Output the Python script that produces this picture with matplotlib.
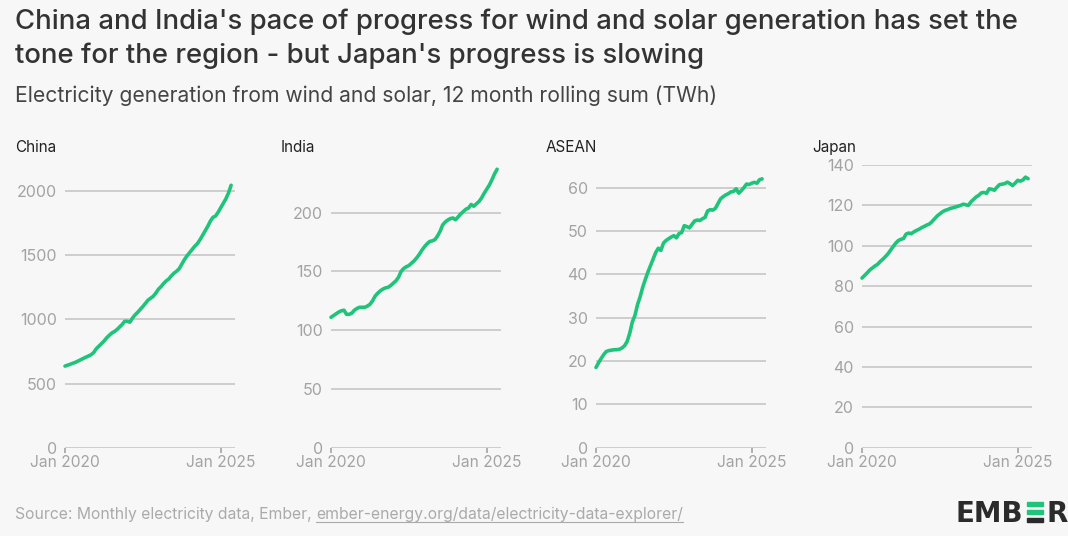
import matplotlib
matplotlib.use('Agg')
import matplotlib.pyplot as plt
from matplotlib.lines import Line2D
from matplotlib.patches import Rectangle
import numpy as np

plt.rcParams['font.family'] = ['Inter', 'DejaVu Sans']

W, H = 1068, 536
BG = '#f7f7f7'
GREEN = '#1fc47a'
GRID = '#cacaca'
TICK = '#a3a3a3'

# months since Jan 2020, 12-month rolling sums (TWh)
MONTHS = np.arange(65)
TICK_POS = [0, 60]
TICK_LABELS = ['Jan 2020', 'Jan 2025']

china = [636, 643, 650, 658, 665, 675, 685, 695, 705, 714, 724, 740, 770, 790, 810, 830,
         855, 875, 893, 905, 920, 940, 960, 985, 985, 978, 1010, 1035, 1055, 1078, 1100, 1125,
         1150, 1165, 1180, 1205, 1235, 1255, 1280, 1300, 1315, 1340, 1360, 1375, 1395, 1430, 1465, 1495,
         1520, 1545, 1570, 1590, 1620, 1655, 1690, 1725, 1765, 1795, 1805, 1835, 1870, 1905, 1940, 1985,
         2045]
india = [111, 112.5, 114, 115.5, 116.5, 117, 113.5, 113.5, 114.5, 117, 118.5, 119.5, 119.5, 119.5, 120.5, 122,
         125, 129, 131.5, 133.5, 135, 136, 136.5, 138, 140, 142, 145, 150, 152.5, 154, 155, 157,
         159, 161.5, 164.5, 168, 171, 173.5, 175.5, 176, 177, 180, 184, 189.5, 192, 193.8, 195, 195.5,
         194, 196.5, 199, 201, 203, 204, 207, 205.5, 207.5, 209.5, 212.5, 216.5, 220, 223.5, 228, 233,
         237]
asean = [18.5, 19.6, 20.6, 21.5, 22.2, 22.4, 22.5, 22.6, 22.6, 22.7, 23.0, 23.5, 24.5, 26.4, 29.0, 30.5,
         33.0, 34.8, 37.0, 38.8, 40.5, 42.0, 43.5, 45.0, 46.0, 45.5, 47.2, 47.8, 48.2, 48.6, 48.9, 48.4,
         49.4, 49.6, 51.2, 51.0, 50.7, 51.5, 52.3, 52.5, 52.4, 52.8, 53.1, 54.6, 54.9, 54.8, 55.2, 56.3,
         57.4, 57.9, 58.3, 58.6, 59.0, 59.1, 59.7, 58.7, 59.3, 60.0, 60.8, 60.7, 61.0, 61.2, 61.0, 61.8,
         62.0]
japan = [84.0, 85.3, 86.6, 88.0, 89.0, 90.0, 90.8, 92.2, 93.3, 94.6, 96.0, 97.8, 99.6, 101.3, 102.6, 103.2,
         103.6, 105.8, 106.3, 106.0, 106.9, 107.6, 108.2, 109.0, 109.6, 110.3, 110.8, 112.0, 113.4, 114.8, 115.8, 116.8,
         117.5, 117.9, 118.5, 118.8, 119.2, 119.6, 120.0, 120.6, 120.3, 120.0, 121.8, 123.0, 124.2, 125.0, 126.2, 126.4,
         126.0, 128.2, 128.0, 127.5, 129.0, 130.3, 130.5, 130.8, 131.5, 130.8, 129.8, 131.0, 132.4, 132.0, 132.6, 134.0,
         133.2]

REGIONS = ['China', 'India', 'ASEAN', 'Japan']
SERIES = [china, india, asean, japan]
YTICKS = [np.arange(0, 2001, 500), np.arange(0, 201, 50), np.arange(0, 61, 10), np.arange(0, 141, 20)]
YTOP = [2203, 240.6, 65.2, 140]

# panel left edges in pixels
LEFTS = [65, 331, 596, 862]
AX_W, AX_BOT, AX_TOP = 170, 447.7, 165

fig = plt.figure(figsize=(W / 100, H / 100), dpi=100, facecolor=BG)

fig.text(15 / W, 1 - 29 / H, "China and India's pace of progress for wind and solar generation has set the",
         fontsize=19.8, fontweight='medium', color='#333333', va='baseline')
fig.text(15 / W, 1 - 63 / H, "tone for the region - but Japan's progress is slowing",
         fontsize=19.8, fontweight='medium', color='#333333', va='baseline')
fig.text(15 / W, 1 - 102 / H, "Electricity generation from wind and solar, 12 month rolling sum (TWh)",
         fontsize=15.2, color='#444444', va='baseline')

for name, vals, yt, ytop, left in zip(REGIONS, SERIES, YTICKS, YTOP, LEFTS):
    ax = fig.add_axes([left / W, 1 - AX_BOT / H, AX_W / W, (AX_BOT - AX_TOP) / H])
    ax.set_facecolor(BG)
    ax.plot(MONTHS, vals, color=GREEN, lw=2.6, solid_capstyle='round', zorder=3, clip_on=False)
    ax.set_xlim(0, 65.5)
    ax.set_ylim(0, ytop)
    ax.set_yticks(yt)
    ax.set_yticklabels([str(v) for v in yt])
    ax.set_xticks(TICK_POS)
    ax.set_xticklabels(TICK_LABELS)
    for s in ax.spines.values():
        s.set_visible(False)
    for v in yt:
        ax.axhline(v, color=GRID, lw=1.3, zorder=1)
    ax.tick_params(axis='y', length=0, pad=6, labelsize=11.5, labelcolor=TICK)
    ax.tick_params(axis='x', length=3.5, width=1.2, color=TICK, pad=2, labelsize=11.2, labelcolor=TICK)
    fig.text((left - 50) / W, 1 - 152 / H, name, fontsize=11, color='#222222', va='baseline')

src = fig.text(15 / W, 1 - 519 / H, "Source: Monthly electricity data, Ember, ",
               fontsize=11.3, color='#aaaaaa', va='baseline')
fig.canvas.draw()
r = fig.canvas.get_renderer()
bb = src.get_window_extent(r)
url = fig.text(bb.x1 / W, 1 - 519 / H, "ember-energy.org/data/electricity-data-explorer/",
               fontsize=11.3, color='#aaaaaa', va='baseline')
fig.canvas.draw()
ub = url.get_window_extent(r)
uy = (H - 521.5) / H
fig.add_artist(Line2D([ub.x0 / W, ub.x1 / W], [uy, uy], color='#aaaaaa', lw=0.8))

# logo
logo = fig.text(955 / W, 1 - 522 / H, "EMB", fontsize=20, fontweight='bold', color='#2b2b2b',
                va='baseline', family='DejaVu Sans')
fig.canvas.draw()
lb = logo.get_window_extent(r)
bx = lb.x1 + 4
bh = 4.0
for i, c in enumerate(['#2b2b2b', GREEN, GREEN]):
    yb = H - 522 + i * 8.0
    fig.add_artist(Rectangle((bx / W, yb / H), 16 / W, bh / H, color=c, transform=fig.transFigure))
fig.text((bx + 20) / W, 1 - 522 / H, "R", fontsize=20, fontweight='bold', color='#2b2b2b',
         va='baseline', family='DejaVu Sans')

fig.savefig('out.png', dpi=100, facecolor=BG)
